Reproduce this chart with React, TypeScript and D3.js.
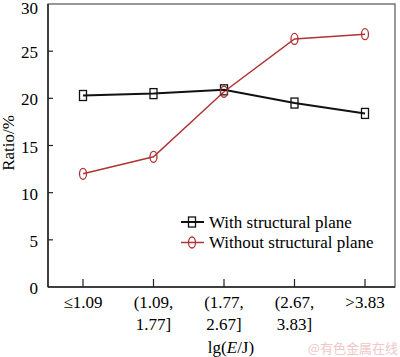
import React from "react";
import * as d3 from "d3";

const categories: string[][] = [["≤1.09"], ["(1.09,", "1.77]"], ["(1.77,", "2.67]"], ["(2.67,", "3.83]"], [">3.83"]];
const withPlane: number[] = [20.3, 20.5, 20.9, 19.5, 18.4];
const withoutPlane: number[] = [12.0, 13.8, 20.7, 26.3, 26.8];
const yTicks: number[] = [0, 5, 10, 15, 20, 25, 30];
const seriesNames = ["With structural plane", "Without structural plane"];

const W = 400, H = 357;
const left = 48, right = 395, top = 4, bottom = 287;
const FONT = `"Liberation Serif"`;
const RED = "#b03434";

export default function App() {
  const x = d3.scaleLinear().domain([0, 4]).range([83, 365]);
  const y = d3.scaleLinear().domain([0, 30]).range([bottom, top]);
  const line = d3.line<number>().x((_, i) => x(i)).y((d) => y(d));
  const ts = { fontFamily: FONT, fontSize: 17 } as React.CSSProperties;
  return (
    <svg width={W} height={H} style={{ position: "absolute", left: 0, top: 0, background: "#fff" }}>
      <rect x={left} y={top} width={right - left} height={bottom - top} fill="none" stroke="#555" strokeWidth={1.2} />
      <line x1={left} x2={left} y1={top} y2={bottom} stroke="#222" strokeWidth={1.5} />
      <line x1={left} x2={right} y1={bottom} y2={bottom} stroke="#222" strokeWidth={1.5} />
      {yTicks.map((t) => (
        <g key={t}>
          {t > 0 && t < 30 && <line x1={left} x2={left + 5} y1={y(t)} y2={y(t)} stroke="#222" strokeWidth={1.2} />}
          <text x={38} y={Math.max(y(t) + 1.2, 8)} dy="0.35em" textAnchor="end" style={ts}>{t}</text>
        </g>
      ))}
      {categories.map((c, i) => (
        <g key={i}>
          <line x1={x(i)} x2={x(i)} y1={bottom} y2={bottom - 8} stroke="#222" strokeWidth={1.2} />
          {c.map((s, j) => (
            <text key={j} x={x(i)} y={308 + j * 22} textAnchor="middle" style={ts}>{s}</text>
          ))}
        </g>
      ))}
      <text x={231} y={353} textAnchor="middle" style={ts}>lg(<tspan fontStyle="italic">E</tspan>/J)</text>
      <text transform={`translate(14,143) rotate(-90)`} textAnchor="middle" style={ts}>Ratio/%</text>
      <path d={line(withoutPlane) || ""} fill="none" stroke={RED} strokeWidth={1.5} />
      <path d={line(withPlane) || ""} fill="none" stroke="#111" strokeWidth={2} />
      {withPlane.map((v, i) => (
        <rect key={i} x={x(i) - 3.5} y={y(v) - 5} width={7} height={10} fill="none" stroke="#111" strokeWidth={1.3} />
      ))}
      {withoutPlane.map((v, i) => (
        <ellipse key={i} cx={x(i)} cy={y(v)} rx={3.5} ry={5.5} fill="none" stroke={RED} strokeWidth={1.3} />
      ))}
      <g>
        <line x1={181} x2={204} y1={222} y2={222} stroke="#111" strokeWidth={2} />
        <rect x={192 - 3.5} y={217} width={7} height={10} fill="none" stroke="#111" strokeWidth={1.3} />
        <text x={209} y={228} style={ts}>{seriesNames[0]}</text>
        <line x1={181} x2={204} y1={242.5} y2={242.5} stroke={RED} strokeWidth={1.5} />
        <ellipse cx={192} cy={242.5} rx={3.5} ry={5.5} fill="none" stroke={RED} strokeWidth={1.3} />
        <text x={209} y={248} style={ts}>{seriesNames[1]}</text>
      </g>
      <text x={398} y={353} textAnchor="end" fill="#f0c8c8" style={{ fontFamily: `"Noto Sans CJK SC"`, fontSize: 13 }}>@有色金属在线</text>
    </svg>
  );
}
